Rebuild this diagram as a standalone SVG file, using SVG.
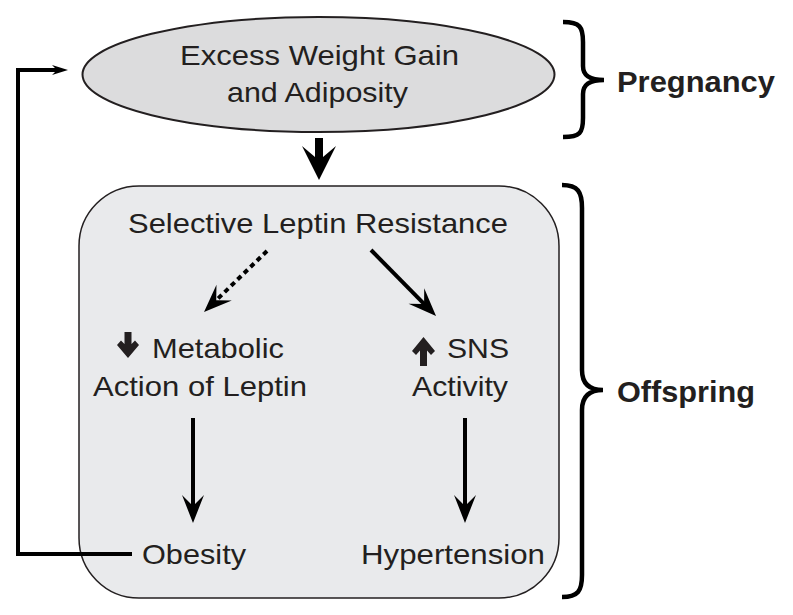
<svg xmlns="http://www.w3.org/2000/svg" width="793" height="615" viewBox="0 0 793 615">
<style>
.t{font-family:"Liberation Sans",Arial,sans-serif;font-size:28.5px;fill:#231f20}
.b{font-family:"Liberation Sans",Arial,sans-serif;font-size:29px;font-weight:bold;fill:#231f20}
.ln{fill:none;stroke:#000;stroke-width:4}
.br{fill:none;stroke:#000;stroke-width:4.5;stroke-linecap:butt}
</style>
<defs>
<marker id="head" markerUnits="userSpaceOnUse" viewBox="-30 -12 31 24" refX="-15" refY="0" markerWidth="31" markerHeight="24" orient="auto">
<path d="M0,0 L-28,-11 L-17,0 L-28,11 Z" fill="#000"/>
</marker>
<marker id="small" markerUnits="userSpaceOnUse" viewBox="-17 -6 18 12" refX="-9" refY="0" markerWidth="18" markerHeight="12" orient="auto">
<path d="M0,0 L-16,-5 L-11,0 L-16,5 Z" fill="#000"/>
</marker>
</defs>
<rect width="793" height="615" fill="#fff"/>
<g id="pregnancy-node">
<ellipse cx="318.5" cy="74.5" rx="236" ry="57.5" fill="#dcdcdd" stroke="#231f20" stroke-width="2"/>
<text class="t" x="180" y="65" textLength="279" lengthAdjust="spacingAndGlyphs">Excess Weight Gain</text>
<text class="t" x="227" y="102" textLength="181" lengthAdjust="spacingAndGlyphs">and Adiposity</text>
</g>
<g id="offspring-box">
<rect x="79" y="186" width="480" height="412" rx="60" ry="60" fill="#e9eaec" stroke="#231f20" stroke-width="1.5"/>
</g>
<g id="selective">
<text class="t" x="128" y="233" textLength="380" lengthAdjust="spacingAndGlyphs">Selective Leptin Resistance</text>
</g>
<g id="metabolic">
<path d="M117,345 L121,340.5 L124.5,344 V332 H131.5 V344 L135,340.5 L139,345 L128,358 Z" fill="#231f20"/>
<text class="t" x="152" y="358" textLength="132" lengthAdjust="spacingAndGlyphs">Metabolic</text>
<text class="t" x="93" y="396" textLength="214" lengthAdjust="spacingAndGlyphs">Action of Leptin</text>
</g>
<g id="sns">
<path d="M423.5,337 L435,351 L431,355 L427,350.5 V366 H420 V350.5 L416,355 L412,351 Z" fill="#231f20"/>
<text class="t" x="447" y="358" textLength="62" lengthAdjust="spacingAndGlyphs">SNS</text>
<text class="t" x="412" y="396" textLength="96" lengthAdjust="spacingAndGlyphs">Activity</text>
</g>
<g id="obesity">
<text class="t" x="142" y="564" textLength="104" lengthAdjust="spacingAndGlyphs">Obesity</text>
</g>
<g id="hypertension">
<text class="t" x="361" y="564" textLength="184" lengthAdjust="spacingAndGlyphs">Hypertension</text>
</g>
<g id="labels">
<path class="br" d="M563,22 C580,22 583,27 583,42 V66 C583,76 590,80 604,80 C590,80 583,84 583,94 V118 C583,133 580,137 563,137"/>
<text class="b" x="617" y="92" textLength="158" lengthAdjust="spacingAndGlyphs">Pregnancy</text>
<path class="br" d="M562,185 C578,185 582,192 582,208 V370 C582,384 590,390 603,390 C590,390 582,396 582,410 V575 C582,591 578,597 562,597"/>
<text class="b" x="617" y="402" textLength="138" lengthAdjust="spacingAndGlyphs">Offspring</text>
</g>
<g id="connectors">
<path d="M315,138 H323 V157 L336,146 L319,180 L302,146 L315,157 Z" fill="#000"/>
<line class="ln" x1="267" y1="251" x2="214.8" y2="301.6" stroke-dasharray="5 4" stroke-width="5" marker-end="url(#head)"/>
<line class="ln" x1="371" y1="250" x2="425.5" y2="305.3" marker-end="url(#head)"/>
<line class="ln" x1="193" y1="418" x2="193" y2="508" marker-end="url(#head)"/>
<line class="ln" x1="465" y1="418" x2="465" y2="508" marker-end="url(#head)"/>
<path class="ln" stroke-width="3" d="M132,554 H18 V70 H59" marker-end="url(#small)"/>
</g>
</svg>
